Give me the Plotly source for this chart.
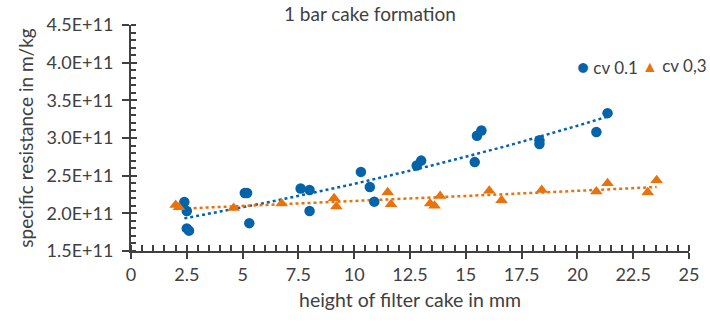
import numpy as np
import plotly.graph_objects as go

# cv 0.1 series
x_cv01 = [2.39, 2.5, 2.5, 2.6, 5.1, 5.2, 5.3, 7.6, 8.0, 8.0, 10.3, 10.7, 10.9,
          12.8, 13.0, 15.4, 15.5, 15.7, 18.3, 18.3, 20.85, 21.35]
y_cv01 = [2.15e11, 2.03e11, 1.80e11, 1.77e11, 2.27e11, 2.27e11, 1.87e11, 2.33e11, 2.31e11, 2.03e11,
          2.55e11, 2.35e11, 2.155e11, 2.635e11, 2.70e11, 2.68e11, 3.03e11, 3.10e11,
          2.97e11, 2.92e11, 3.08e11, 3.33e11]

# cv 0,3 series
x_cv03 = [2.0, 2.15, 4.6, 6.75, 9.1, 9.2, 11.5, 11.65, 13.4, 13.6, 13.85, 16.05, 16.6,
          18.4, 20.85, 21.35, 23.15, 23.55]
y_cv03 = [2.11e11, 2.08e11, 2.07e11, 2.13e11, 2.20e11, 2.09e11, 2.28e11, 2.12e11, 2.13e11, 2.10e11,
          2.23e11, 2.30e11, 2.175e11, 2.31e11, 2.29e11, 2.40e11, 2.28e11, 2.44e11]

series_names = ["cv 0.1", "cv 0,3"]

y_tick_vals = [1.5e11, 2.0e11, 2.5e11, 3.0e11, 3.5e11, 4.0e11, 4.5e11]
y_tick_text = ["1.5E+11", "2.0E+11", "2.5E+11", "3.0E+11", "3.5E+11", "4.0E+11", "4.5E+11"]

BLUE = "#0563A9"
ORANGE = "#E8720C"
AXIS = "#404040"
FONT = "Lato"

fig = go.Figure()

def exp_trend(xs, ys, n=60):
    # exponential trendline y = a*exp(b*x), fitted on ln(y)
    b, ln_a = np.polyfit(xs, np.log(ys), 1)
    xt = np.linspace(min(xs), max(xs), n)
    return xt, np.exp(ln_a) * np.exp(b * xt)

xt1, yt1 = exp_trend(x_cv01, y_cv01)
xt3, yt3 = exp_trend(x_cv03, y_cv03)

fig.add_trace(go.Scatter(x=xt1, y=yt1, mode="lines", showlegend=False, hoverinfo="skip",
                         line=dict(color=BLUE, width=2.5, dash="dot")))
fig.add_trace(go.Scatter(x=xt3, y=yt3, mode="lines", showlegend=False, hoverinfo="skip",
                         line=dict(color=ORANGE, width=2.5, dash="dot")))

fig.add_trace(go.Scatter(x=x_cv01, y=y_cv01, mode="markers", name=series_names[0], showlegend=False,
                         marker=dict(color=BLUE, size=10.5, symbol="circle")))
fig.add_trace(go.Scatter(x=x_cv03, y=y_cv03, mode="markers", name=series_names[1], showlegend=False,
                         marker=dict(color=ORANGE, size=11, symbol="triangle-up")))

# compact legend (Excel style) as text annotations
fig.add_annotation(xref="paper", yref="paper", x=0.795, y=0.82, xanchor="left", yanchor="middle",
                   showarrow=False, align="left",
                   text=f'<span style="color:{BLUE};font-size:20px">●</span> {series_names[0]}',
                   font=dict(size=17, color=AXIS, family=FONT))
fig.add_annotation(xref="paper", yref="paper", x=0.913, y=0.82, xanchor="left", yanchor="middle",
                   showarrow=False, align="left",
                   text=f'<span style="color:{ORANGE};font-size:16px">▲</span> {series_names[1]}',
                   font=dict(size=17, color=AXIS, family=FONT))

fig.update_layout(
    width=710, height=323,
    margin=dict(l=131, r=11, t=25, b=72),
    paper_bgcolor="white", plot_bgcolor="white",
    font=dict(family=FONT, color=AXIS, size=18),
    showlegend=False,
    title=dict(text="1 bar cake formation", x=0.521, xanchor="center", y=0.955, yanchor="middle",
               font=dict(size=19, color=AXIS, family=FONT)),
    xaxis=dict(range=[0, 25], dtick=2.5, tick0=0, showgrid=False, zeroline=False,
               showline=True, linecolor=AXIS, linewidth=2,
               ticks="outside", ticklen=6, tickwidth=2, tickcolor=AXIS,
               minor=dict(dtick=0.5, ticks="inside", ticklen=6, tickwidth=1.5, tickcolor=AXIS),
               tickfont=dict(size=18, color=AXIS), ticklabeloverflow="allow",
               title=dict(text="height of filter cake in mm", font=dict(size=19.5, color=AXIS), standoff=10)),
    yaxis=dict(range=[1.5e11, 4.5e11], tickvals=y_tick_vals, ticktext=y_tick_text,
               showgrid=False, zeroline=False,
               showline=True, linecolor=AXIS, linewidth=2,
               ticks="outside", ticklen=7, tickwidth=2, tickcolor=AXIS,
               minor=dict(dtick=0.1e11, tick0=1.5e11, ticks="inside", ticklen=5, tickwidth=1.5, tickcolor=AXIS),
               tickfont=dict(size=18, color=AXIS), ticklabelstandoff=5,
               title=dict(text="specific resistance in m/kg", font=dict(size=19, color=AXIS), standoff=8)),
    # overlay axes to draw the inner half of the crossing major ticks
    xaxis2=dict(overlaying="x", range=[0, 25], dtick=2.5, tick0=0, showgrid=False, zeroline=False,
                showline=False, ticks="inside", ticklen=6, tickwidth=2, tickcolor=AXIS,
                showticklabels=False, side="bottom"),
    yaxis2=dict(overlaying="y", range=[1.5e11, 4.5e11], tickvals=y_tick_vals, showgrid=False,
                zeroline=False, showline=False, ticks="inside", ticklen=6, tickwidth=2,
                tickcolor=AXIS, showticklabels=False, side="left"),
)

# invisible trace to activate overlay axes
fig.add_trace(go.Scatter(x=[None], y=[None], xaxis="x2", yaxis="y2", showlegend=False,
                         hoverinfo="skip", mode="markers"))

fig.write_html("out.html")
